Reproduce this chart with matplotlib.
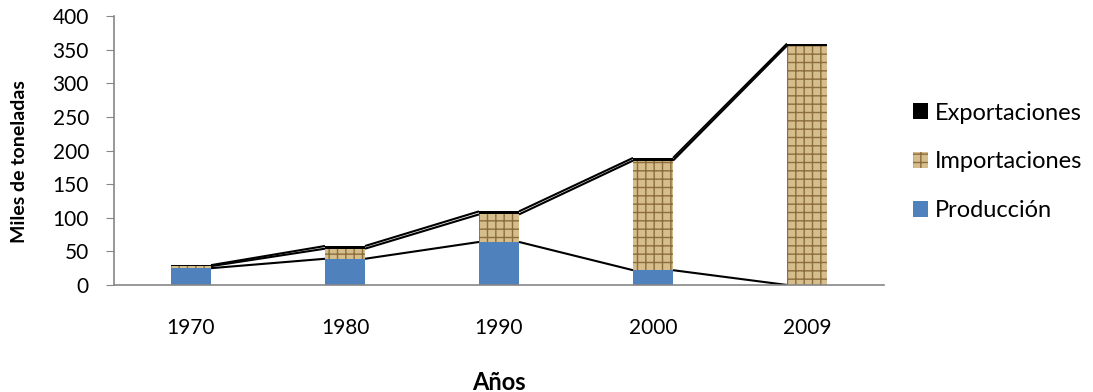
import numpy as np
import matplotlib.pyplot as plt
from matplotlib.patches import Patch

plt.rcParams['font.family'] = ['Lato', 'DejaVu Sans']

# datos (miles de toneladas)
anios = ['1970', '1980', '1990', '2000', '2009']
produccion = [25, 39, 64, 22, 0]
importaciones = [3, 15, 41, 163, 356]
exportaciones = [1.5, 4, 4.5, 4, 3]

x = np.arange(len(anios))
ancho = 0.26
prod = np.array(produccion)
imp = np.array(importaciones)
exp_ = np.array(exportaciones)

fig = plt.figure(figsize=(10.93, 3.92), dpi=100)
ax = fig.add_axes([0.1043, 0.273, 0.7045, 0.686])

c_prod = '#4f81bd'
c_imp = '#d6bd8c'
c_hatch = '#8c6d3c'

ax.bar(x, prod, ancho, color=c_prod, linewidth=0, label='Producción')
ax.bar(x, imp, ancho, bottom=prod, facecolor=c_imp, edgecolor=c_hatch,
       hatch='++', linewidth=0, label='Importaciones')
ax.bar(x, exp_, ancho, bottom=prod + imp, color='black', linewidth=0,
       label='Exportaciones')

# lineas de series (estilo Excel)
for tops in [prod, prod + imp, prod + imp + exp_]:
    for i in range(len(x) - 1):
        ax.plot([x[i] + ancho / 2, x[i + 1] - ancho / 2], [tops[i], tops[i + 1]],
                color='black', lw=1.5, solid_capstyle='butt')

ax.set_xlim(-0.5, len(x) - 0.5)
ax.set_ylim(0, 400)
ax.set_yticks(range(0, 401, 50))
ax.set_xticks(x)
ax.set_xticklabels(anios)
ax.tick_params(axis='y', labelsize=15, length=6, color='#868686', pad=12)
ax.tick_params(axis='x', labelsize=15, length=0, pad=24)
for s in ['top', 'right']:
    ax.spines[s].set_visible(False)
for s in ['left', 'bottom']:
    ax.spines[s].set_color('#868686')
    ax.spines[s].set_linewidth(1.2)

fig.text(0.018, 0.587, 'Miles de toneladas', rotation=90, fontsize=14,
         fontweight='bold', ha='center', va='center')
fig.text(0.4567, 0.0255, 'Años', fontsize=17, fontweight='bold',
         ha='center', va='center')

handles = [Patch(facecolor='black'),
           Patch(facecolor=c_imp, edgecolor=c_hatch, hatch='++', linewidth=0),
           Patch(facecolor=c_prod)]
fig.legend(handles, ['Exportaciones', 'Importaciones', 'Producción'],
           loc='center left', bbox_to_anchor=(0.835, 0.587), frameon=False,
           fontsize=17, handlelength=0.64, handleheight=0.64, handletextpad=0.3,
           labelspacing=1.18, borderpad=0, borderaxespad=0)

fig.savefig('out.png', dpi=100)
